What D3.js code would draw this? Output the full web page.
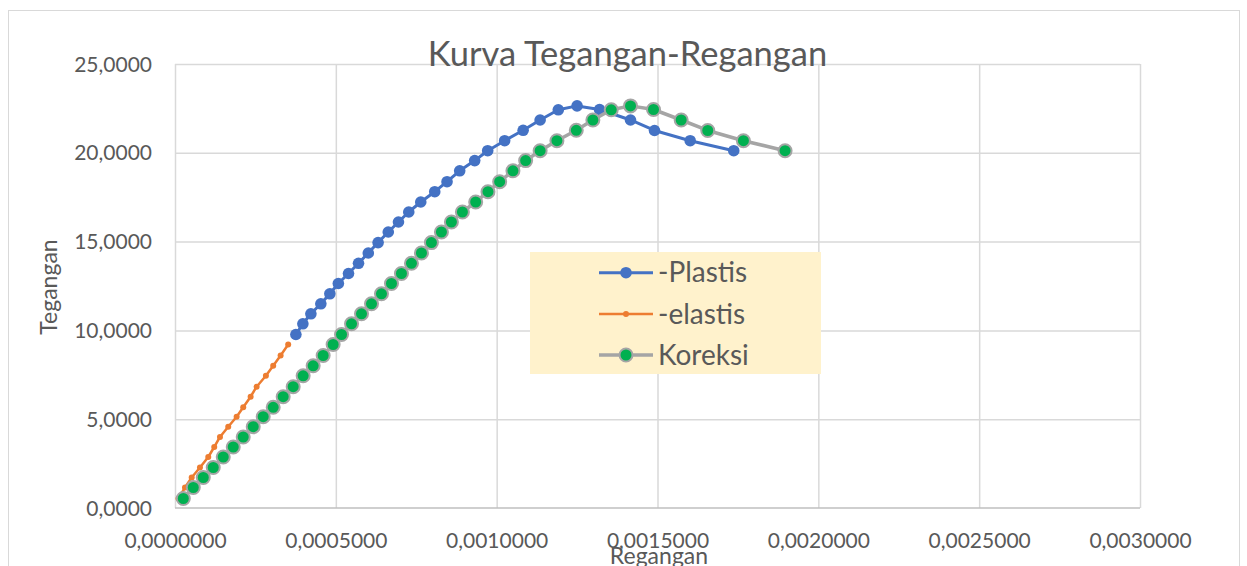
<!DOCTYPE html>
<html><head><meta charset="utf-8">
<script src="https://cdn.jsdelivr.net/npm/d3@7/dist/d3.min.js"></script>
<style>body{margin:0;background:#fff;overflow:hidden} svg{display:block;font-family:Lato,"Open Sans",sans-serif;}</style>
</head><body><svg id="c" width="1247" height="566"></svg>
<script>
// ---- data ----
const plastisStrain = [0.0003758,0.0003975,0.0004224,0.0004534,0.0004814,0.0005078,0.0005394,0.0005705,0.0006009,0.0006314,0.0006630,0.0006947,0.0007267,0.0007640,0.0008075,0.0008457,0.0008851,0.0009317,0.0009721,0.0010248,0.0010823,0.0011351,0.0011916,0.0012500,0.0013199,0.0014161,0.0014907,0.0016016,0.0017370];
const plastisStress = [9.769,10.372,10.935,11.498,12.061,12.641,13.204,13.778,14.358,14.944,15.541,16.104,16.667,17.230,17.810,18.373,18.987,19.561,20.118,20.681,21.267,21.847,22.421,22.641,22.438,21.847,21.256,20.681,20.118];
const elastisStrain = [0.0000109,0.0000311,0.0000519,0.0000776,0.0001034,0.0001220,0.0001398,0.0001655,0.0001916,0.0002121,0.0002351,0.0002537,0.0002826,0.0003053,0.0003283,0.0003519];
const elastisStress = [0.535,1.154,1.717,2.280,2.872,3.435,3.998,4.578,5.141,5.670,6.267,6.830,7.444,8.007,8.587,9.206];
const koreksiStrain = [0.0000258,0.0000568,0.0000879,0.0001189,0.0001500,0.0001811,0.0002121,0.0002432,0.0002742,0.0003053,0.0003363,0.0003674,0.0003984,0.0004295,0.0004606,0.0004916,0.0005177,0.0005488,0.0005798,0.0006109,0.0006419,0.0006730,0.0007040,0.0007351,0.0007662,0.0007972,0.0008283,0.0008593,0.0008935,0.0009348,0.0009730,0.0010093,0.0010506,0.0010901,0.0011351,0.0011873,0.0012475,0.0012991,0.0013562,0.0014161,0.0014876,0.0015736,0.0016562,0.0017671,0.0018966];
const koreksiStress = [0.535,1.154,1.717,2.280,2.872,3.435,3.998,4.578,5.141,5.670,6.267,6.830,7.444,8.007,8.587,9.206,9.769,10.372,10.935,11.498,12.061,12.641,13.204,13.778,14.358,14.944,15.541,16.104,16.667,17.230,17.810,18.373,18.987,19.561,20.118,20.681,21.267,21.847,22.421,22.641,22.438,21.847,21.256,20.681,20.118];
const xTickValues = [0,0.0005,0.001,0.0015,0.002,0.0025,0.003];
const yTickValues = [0,5,10,15,20,25];
const seriesNames = ["-Plastis","-elastis","Koreksi"];
const titleText = "Kurva Tegangan-Regangan";
const xTitle = "Regangan", yTitle = "Tegangan";

// ---- drawing ----
const svg = d3.select('#c');
const x = d3.scaleLinear().domain([0,0.003]).range([175,1140]);
const y = d3.scaleLinear().domain([0,25]).range([508,64]);
const fmtX = v => d3.format('.7f')(v).replace('.', ',');
const fmtY = v => d3.format('.4f')(v).replace('.', ',');
const txt = '#595959';

svg.append('rect').attr('x',8.5).attr('y',10.5).attr('width',1231).attr('height',600)
  .attr('fill','#fff').attr('stroke','#d9d9d9').attr('stroke-width',1);

// gridlines
const gy = svg.append('g').attr('transform','translate(175,0)')
  .call(d3.axisLeft(y).tickValues(yTickValues.filter(d=>d>0)).tickSize(-965).tickFormat(''));
gy.select('.domain').remove();
gy.selectAll('line').attr('stroke','#d9d9d9').attr('stroke-width',1.5);
const gx = svg.append('g').attr('transform','translate(0,508)')
  .call(d3.axisBottom(x).tickValues(xTickValues).tickSize(-444).tickFormat(''));
gx.select('.domain').remove();
gx.selectAll('line').attr('stroke','#d9d9d9').attr('stroke-width',1.5);
svg.append('line').attr('x1',x(0)).attr('x2',x(0.003)).attr('y1',y(0)).attr('y2',y(0))
  .attr('stroke','#bfbfbf').attr('stroke-width',1.5);

// tick labels
const ax = svg.append('g').attr('transform','translate(0,508)')
  .call(d3.axisBottom(x).tickValues(xTickValues).tickSize(0).tickPadding(0).tickFormat(fmtX));
ax.select('.domain').remove();
ax.selectAll('text').attr('dy',null).attr('y',40).attr('fill',txt).attr('font-size',21).attr('font-family','Lato');
const ay = svg.append('g').attr('transform','translate(152,0)')
  .call(d3.axisLeft(y).tickValues(yTickValues).tickSize(0).tickPadding(0).tickFormat(fmtY));
ay.select('.domain').remove();
ay.selectAll('text').attr('dy',null).attr('y',7).attr('fill',txt).attr('font-size',21).attr('font-family','Lato');

// titles
svg.append('text').attr('x',627.5).attr('y',66).attr('text-anchor','middle')
  .attr('font-size',34.5).attr('fill',txt).text(titleText);
svg.append('text').attr('x',659).attr('y',564).attr('text-anchor','middle')
  .attr('font-size',23).attr('fill',txt).text(xTitle);
svg.append('text').attr('transform','translate(57,287) rotate(-90)').attr('text-anchor','middle')
  .attr('font-size',23).attr('fill',txt).text(yTitle);

// series
const line = d3.line().x(d=>x(d[0])).y(d=>y(d[1]));
const plastis = d3.zip(plastisStrain, plastisStress);
const elastis = d3.zip(elastisStrain, elastisStress);
const koreksi = d3.zip(koreksiStrain, koreksiStress);

const styles = [
  {data:plastis, stroke:'#4472c4', sw:3, r:5.8, fill:'#4472c4', ms:'none', msw:0},
  {data:elastis, stroke:'#ed7d31', sw:2.5, r:3, fill:'#ed7d31', ms:'none', msw:0},
  {data:koreksi, stroke:'#a5a5a5', sw:3.5, r:6.5, fill:'#00b050', ms:'#a5a5a5', msw:2}
];
styles.forEach(s=>{
  svg.append('path').datum(s.data).attr('d',line).attr('fill','none')
    .attr('stroke',s.stroke).attr('stroke-width',s.sw).attr('stroke-linejoin','round');
  svg.append('g').selectAll('circle').data(s.data).join('circle')
    .attr('cx',d=>x(d[0])).attr('cy',d=>y(d[1])).attr('r',s.r)
    .attr('fill',s.fill).attr('stroke',s.ms).attr('stroke-width',s.msw);
});

// legend
const lg = svg.append('g');
lg.append('rect').attr('x',530).attr('y',252).attr('width',291).attr('height',122).attr('fill','#fff2cc');
const ly = [272.7,314,355];
styles.forEach((s,i)=>{
  lg.append('line').attr('x1',599).attr('x2',653).attr('y1',ly[i]).attr('y2',ly[i])
    .attr('stroke',s.stroke).attr('stroke-width',s.sw);
  lg.append('circle').attr('cx',626).attr('cy',ly[i]).attr('r',s.r)
    .attr('fill',s.fill).attr('stroke',s.ms).attr('stroke-width',s.msw);
  lg.append('text').attr('x',658).attr('y',ly[i]+9.5).attr('font-size',28).attr('fill',txt).text(seriesNames[i]);
});
</script></body></html>
